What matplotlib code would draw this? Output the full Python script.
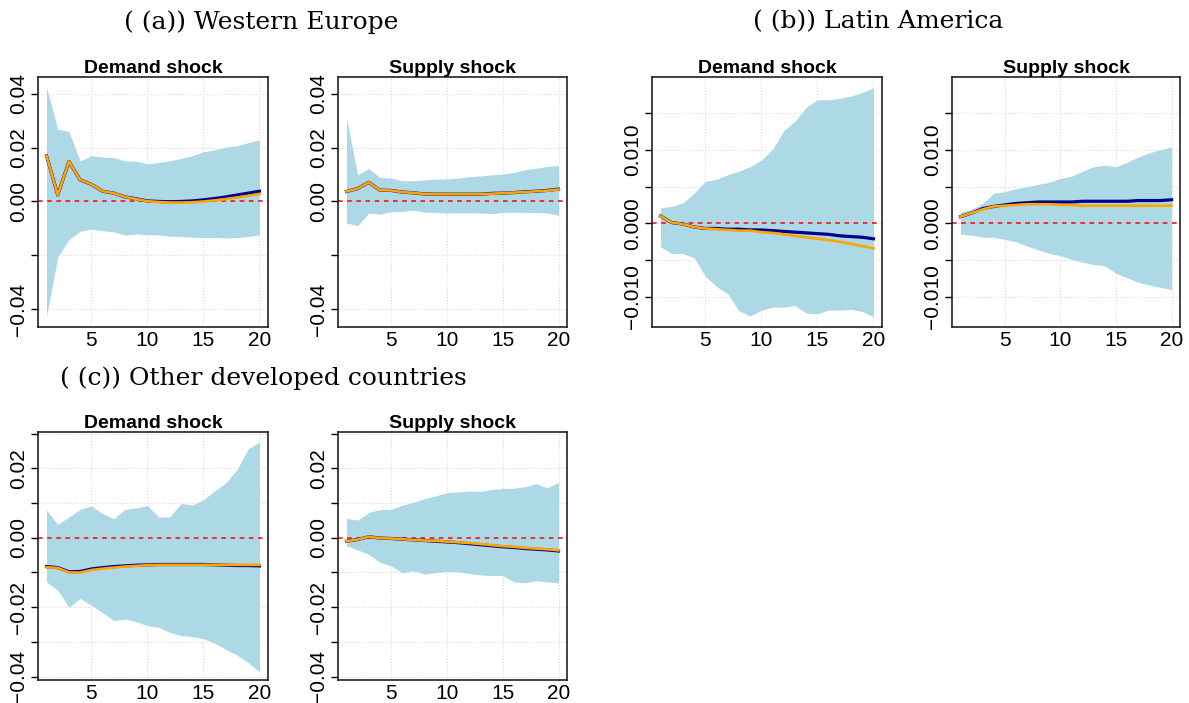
import matplotlib
matplotlib.use("Agg")
import matplotlib.pyplot as plt
import numpy as np

# horizons
h = list(range(1, 21))

# (a) Western Europe - demand shock
we_dem_up = [0.0425, 0.0269, 0.0260, 0.0151, 0.0170, 0.0165, 0.0163, 0.0151, 0.0150, 0.0140,
             0.0145, 0.0151, 0.0160, 0.0170, 0.0185, 0.0192, 0.0202, 0.0207, 0.0219, 0.0229]
we_dem_lo = [-0.0427, -0.0207, -0.0142, -0.0111, -0.0103, -0.0109, -0.0113, -0.0125, -0.0121, -0.0124,
             -0.0124, -0.0130, -0.0130, -0.0133, -0.0134, -0.0134, -0.0136, -0.0134, -0.0130, -0.0124]
we_dem_a = [0.0170, 0.0024, 0.0149, 0.0080, 0.0064, 0.0038, 0.0031, 0.0017, 0.0010, 0.0002,
            0.0000, -0.0001, 0.0000, 0.0002, 0.0006, 0.0011, 0.0017, 0.0024, 0.0031, 0.0038]
we_dem_b = [0.0170, 0.0024, 0.0149, 0.0080, 0.0064, 0.0038, 0.0031, 0.0017, 0.0009, 0.0001,
            -0.0002, -0.0004, -0.0004, -0.0003, 0.0000, 0.0004, 0.0009, 0.0015, 0.0021, 0.0028]

# (a) Western Europe - supply shock
we_sup_up = [0.0310, 0.0099, 0.0123, 0.0089, 0.0087, 0.0077, 0.0077, 0.0080, 0.0083, 0.0084,
             0.0087, 0.0092, 0.0095, 0.0099, 0.0102, 0.0108, 0.0118, 0.0124, 0.0130, 0.0134]
we_sup_lo = [-0.0080, -0.0090, -0.0043, -0.0047, -0.0038, -0.0037, -0.0032, -0.0040, -0.0041, -0.0043,
             -0.0042, -0.0042, -0.0043, -0.0045, -0.0041, -0.0040, -0.0041, -0.0041, -0.0043, -0.0051]
we_sup_a = [0.0037, 0.0048, 0.0071, 0.0042, 0.0041, 0.0035, 0.0032, 0.0028, 0.0027, 0.0027,
            0.0027, 0.0027, 0.0027, 0.0030, 0.0031, 0.0033, 0.0036, 0.0038, 0.0041, 0.0046]
we_sup_b = [0.0037, 0.0048, 0.0071, 0.0042, 0.0041, 0.0035, 0.0032, 0.0028, 0.0027, 0.0027,
            0.0027, 0.0027, 0.0027, 0.0029, 0.0031, 0.0033, 0.0035, 0.0038, 0.0040, 0.0045]

# (b) Latin America - demand shock
la_dem_up = [0.0021, 0.0023, 0.0028, 0.0041, 0.0057, 0.0060, 0.0066, 0.0071, 0.0077, 0.0086,
             0.0101, 0.0126, 0.0139, 0.0158, 0.0168, 0.0168, 0.0170, 0.0173, 0.0178, 0.0184]
la_dem_lo = [-0.0032, -0.0041, -0.0041, -0.0047, -0.0072, -0.0086, -0.0096, -0.0119, -0.0126, -0.0118,
             -0.0114, -0.0114, -0.0112, -0.0122, -0.0123, -0.0118, -0.0118, -0.0117, -0.0120, -0.0127]
la_dem_a = [0.0010, 0.0001, -0.0001, -0.0005, -0.0007, -0.0007, -0.0008, -0.0008, -0.0009, -0.0009,
            -0.0010, -0.0011, -0.0012, -0.0013, -0.0014, -0.0015, -0.0017, -0.0018, -0.0019, -0.0021]
la_dem_b = [0.0010, 0.0001, -0.0001, -0.0005, -0.0007, -0.0008, -0.0009, -0.0010, -0.0010, -0.0012,
            -0.0013, -0.0015, -0.0017, -0.0019, -0.0021, -0.0023, -0.0025, -0.0028, -0.0031, -0.0034]

# (b) Latin America - supply shock
la_sup_up = [0.0015, 0.0019, 0.0027, 0.0041, 0.0043, 0.0047, 0.0050, 0.0053, 0.0056, 0.0061,
             0.0064, 0.0071, 0.0077, 0.0079, 0.0077, 0.0083, 0.0090, 0.0096, 0.0100, 0.0104]
la_sup_lo = [-0.0015, -0.0016, -0.0019, -0.0019, -0.0022, -0.0025, -0.0031, -0.0036, -0.0041, -0.0044,
             -0.0049, -0.0053, -0.0056, -0.0058, -0.0068, -0.0074, -0.0080, -0.0084, -0.0087, -0.0090]
la_sup_a = [0.0009, 0.0014, 0.0020, 0.0023, 0.0025, 0.0027, 0.0028, 0.0029, 0.0029, 0.0029,
            0.0029, 0.0030, 0.0030, 0.0030, 0.0030, 0.0030, 0.0031, 0.0031, 0.0031, 0.0032]
la_sup_b = [0.0009, 0.0014, 0.0019, 0.0023, 0.0024, 0.0025, 0.0026, 0.0026, 0.0026, 0.0025,
            0.0025, 0.0024, 0.0024, 0.0024, 0.0024, 0.0024, 0.0024, 0.0024, 0.0024, 0.0024]

# (c) Other developed countries - demand shock
od_dem_up = [0.0080, 0.0039, 0.0060, 0.0082, 0.0092, 0.0070, 0.0055, 0.0082, 0.0086, 0.0093,
             0.0060, 0.0060, 0.0099, 0.0094, 0.0110, 0.0135, 0.0158, 0.0197, 0.0257, 0.0276]
od_dem_lo = [-0.0127, -0.0151, -0.0200, -0.0175, -0.0194, -0.0216, -0.0239, -0.0234, -0.0242, -0.0253,
             -0.0258, -0.0273, -0.0282, -0.0285, -0.0291, -0.0304, -0.0322, -0.0338, -0.0360, -0.0386]
od_dem_a = [-0.0083, -0.0086, -0.0098, -0.0097, -0.0090, -0.0086, -0.0083, -0.0081, -0.0079, -0.0078,
            -0.0077, -0.0077, -0.0077, -0.0077, -0.0077, -0.0078, -0.0079, -0.0080, -0.0080, -0.0081]
od_dem_b = [-0.0085, -0.0087, -0.0100, -0.0100, -0.0093, -0.0089, -0.0086, -0.0083, -0.0081, -0.0079,
            -0.0078, -0.0078, -0.0078, -0.0078, -0.0078, -0.0078, -0.0078, -0.0078, -0.0078, -0.0078]

# (c) Other developed countries - supply shock
od_sup_up = [0.0056, 0.0051, 0.0073, 0.0081, 0.0082, 0.0094, 0.0102, 0.0113, 0.0121, 0.0130,
             0.0132, 0.0135, 0.0134, 0.0139, 0.0142, 0.0143, 0.0147, 0.0156, 0.0144, 0.0160]
od_sup_lo = [-0.0023, -0.0035, -0.0048, -0.0071, -0.0081, -0.0101, -0.0095, -0.0105, -0.0100, -0.0097,
             -0.0098, -0.0103, -0.0107, -0.0109, -0.0109, -0.0127, -0.0130, -0.0124, -0.0127, -0.0130]
od_sup_a = [-0.0010, -0.0005, 0.0003, -0.0001, -0.0002, -0.0004, -0.0006, -0.0008, -0.0010, -0.0012,
            -0.0014, -0.0017, -0.0020, -0.0023, -0.0026, -0.0028, -0.0031, -0.0033, -0.0035, -0.0038]
od_sup_b = [-0.0010, -0.0005, 0.0003, -0.0001, -0.0002, -0.0004, -0.0006, -0.0008, -0.0009, -0.0011,
            -0.0013, -0.0015, -0.0018, -0.0021, -0.0024, -0.0026, -0.0029, -0.0031, -0.0033, -0.0036]

# y axis ticks / labels per region
we_ticks = [-0.04, -0.02, 0.0, 0.02, 0.04]
we_labels = ["\u22120.04", "", "0.00", "0.02", "0.04"]
la_ticks = [-0.010, -0.005, 0.0, 0.005, 0.010, 0.015]
la_labels = ["\u22120.010", "", "0.000", "", "0.010", ""]
od_ticks = [-0.04, -0.03, -0.02, -0.01, 0.0, 0.01, 0.02, 0.03]
od_labels = ["\u22120.04", "", "\u22120.02", "", "0.00", "", "0.02", ""]

headings = ["( (a)) Western Europe", "( (b)) Latin America", "( (c)) Other developed countries"]

W, H = 1189, 703
fig = plt.figure(figsize=(W / 100, H / 100), dpi=100)
plt.rcParams['font.family'] = ['Liberation Sans', 'DejaVu Sans']


def px_axes(left, right, top, bottom):
    return fig.add_axes([left / W, 1 - bottom / H, (right - left) / W, (bottom - top) / H])


def irf_panel(box, title, up, lo, a, b, ylim, ticks, labels):
    ax = px_axes(*box)
    ax.fill_between(h, lo, up, color="#add8e6", lw=0, zorder=1)
    ax.plot(h, a, color="#00008b", lw=2.3, zorder=3)
    ax.plot(h, b, color="orange", lw=1.9, zorder=4)
    ax.axhline(0, color="red", ls=(0, (3, 3)), lw=1.1, zorder=2)
    ax.set_xlim(0.24, 20.76)
    ax.set_ylim(*ylim)
    ax.set_xticks([5, 10, 15, 20])
    ax.set_yticks(ticks)
    ax.set_yticklabels(labels, rotation=90, va="center")
    ax.grid(True, color="#d9d9d9", ls=":", lw=0.8, zorder=0)
    ax.set_axisbelow(True)
    ax.tick_params(axis="y", length=5, width=1, pad=2, labelsize=15)
    ax.tick_params(axis="x", length=0, pad=3, labelsize=15)
    for s in ax.spines.values():
        s.set_linewidth(1.2)
        s.set_color("#222222")
    ax.set_title(title, fontsize=14, fontweight="bold", pad=2)
    return ax


irf_panel((38, 268, 77, 327), "Demand shock", we_dem_up, we_dem_lo, we_dem_a, we_dem_b,
          (-0.0467, 0.0463), we_ticks, we_labels)
irf_panel((338, 567, 77, 327), "Supply shock", we_sup_up, we_sup_lo, we_sup_a, we_sup_b,
          (-0.0467, 0.0463), we_ticks, we_labels)
irf_panel((652, 882, 77, 327), "Demand shock", la_dem_up, la_dem_lo, la_dem_a, la_dem_b,
          (-0.0141, 0.0199), la_ticks, la_labels)
irf_panel((952, 1180, 77, 327), "Supply shock", la_sup_up, la_sup_lo, la_sup_a, la_sup_b,
          (-0.0141, 0.0199), la_ticks, la_labels)
irf_panel((38, 268, 432, 680), "Demand shock", od_dem_up, od_dem_lo, od_dem_a, od_dem_b,
          (-0.0410, 0.0305), od_ticks, od_labels)
irf_panel((338, 567, 432, 680), "Supply shock", od_sup_up, od_sup_lo, od_sup_a, od_sup_b,
          (-0.0410, 0.0305), od_ticks, od_labels)

# sub-figure headings
fig.text(261 / W, 1 - 22 / H, headings[0], family="DejaVu Serif", fontsize=18, ha="center", va="center")
fig.text(878 / W, 1 - 22 / H, headings[1], family="DejaVu Serif", fontsize=18, ha="center", va="center")
fig.text(263 / W, 1 - 378 / H, headings[2], family="DejaVu Serif", fontsize=18, ha="center", va="center")

fig.savefig("out.png", dpi=100)
